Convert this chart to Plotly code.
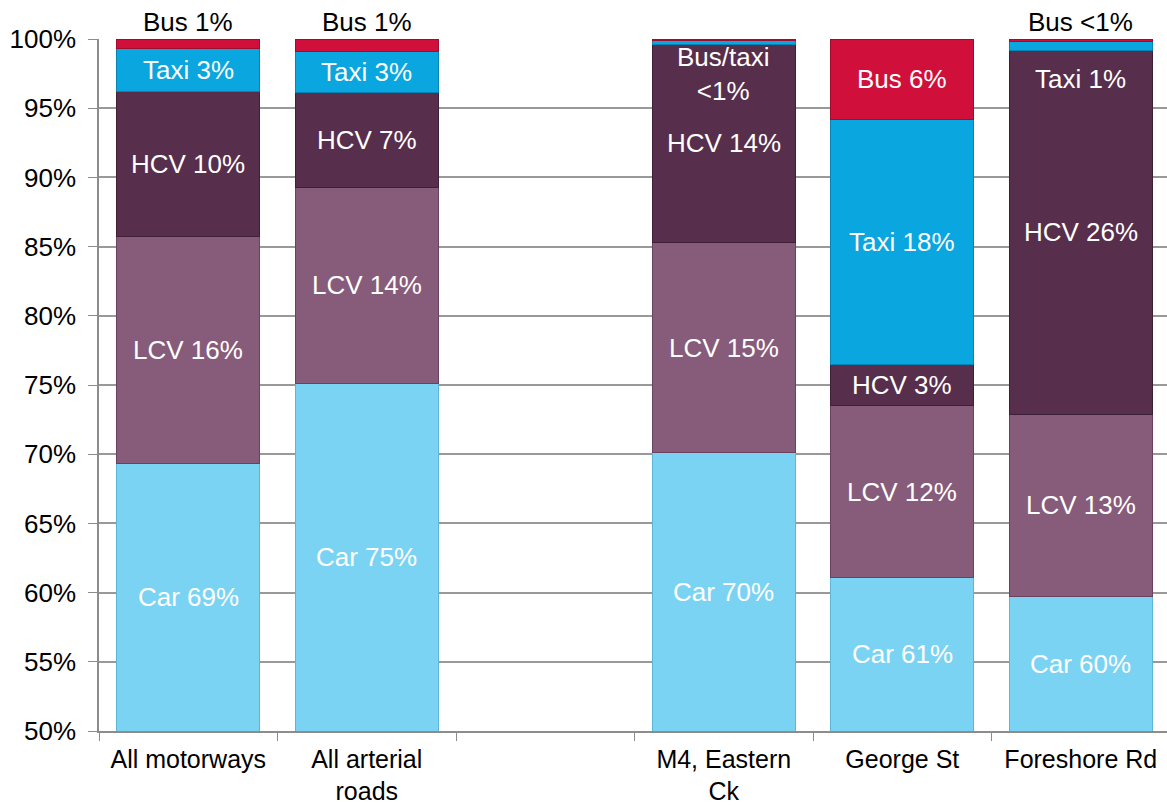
import plotly.graph_objects as go

# categories (blank slot keeps the gap between the two groups)
roads = ["All motorways", "All arterial<br>roads", " ", "M4, Eastern<br>Ck", "George St", "Foreshore Rd"]

# vehicle share, % of traffic
car = [69.3, 75.1, 0, 70.1, 61.1, 59.7]
lcv = [16.4, 14.2, 0, 15.2, 12.4, 13.2]
hcv = [10.5, 6.8, 0, 14.3, 3.0, 26.3]
taxi = [3.1, 3.0, 0, 0.3, 17.7, 0.65]
bus = [0.7, 0.9, 0, 0.1, 5.8, 0.15]

# labels drawn in the middle of each segment
car_text = ["Car 69%", "Car 75%", "", "Car 70%", "Car 61%", "Car 60%"]
lcv_text = ["LCV 16%", "LCV 14%", "", "LCV 15%", "LCV 12%", "LCV 13%"]
hcv_text = ["HCV 10%", "HCV 7%", "", "HCV 14%", "HCV 3%", "HCV 26%"]
taxi_text = ["Taxi 3%", "Taxi 3%", "", "", "Taxi 18%", ""]
bus_text = ["", "", "", "", "Bus 6%", ""]
# labels above the bars, and labels tucked under the top of the HCV block
above_text = ["Bus 1%", "Bus 1%", "", "", "", "Bus <1%"]
hcv_top_text = ["", "", "", "Bus/taxi<br><1%", "", "Taxi 1%"]

series = [
    ("Car", car, car_text, "#7BD3F4", "#5fb5d6"),
    ("LCV", lcv, lcv_text, "#875B7A", "#6a4260"),
    ("HCV", hcv, hcv_text, "#572E4B", "#3f1f36"),
    ("Taxi", taxi, taxi_text, "#09A6E0", "#0784b4"),
    ("Bus", bus, bus_text, "#D0103A", "#a00c2c"),
]

FONT = "Arial, Liberation Sans, sans-serif"
Y0, Y1 = 50, 100

fig = go.Figure()
annotations = []
base = [0.0] * len(roads)
for name, vals, texts, color, edge in series:
    fig.add_trace(go.Bar(
        x=roads, y=vals, name=name,
        marker=dict(color=color, line=dict(color=edge, width=1)),
        hoverinfo="x+y+name",
    ))
    for i, t in enumerate(texts):
        if t:
            lo = max(base[i], Y0)
            hi = min(base[i] + vals[i], Y1)
            annotations.append(dict(x=roads[i], y=(lo + hi) / 2, text=t, showarrow=False,
                                    font=dict(color="white", size=26, family=FONT)))
    base = [b + v for b, v in zip(base, vals)]

hcv_top = [c + l + h for c, l, h in zip(car, lcv, hcv)]
shifts = {3: 5, 5: -12}
for i, t in enumerate(hcv_top_text):
    if t:
        annotations.append(dict(x=roads[i], y=hcv_top[i], text=t, showarrow=False,
                                yanchor="top", yshift=shifts.get(i, 0),
                                font=dict(color="white", size=26, family=FONT)))
for i, t in enumerate(above_text):
    if t:
        annotations.append(dict(x=roads[i], y=Y1, text=t, showarrow=False,
                                yanchor="bottom", yshift=0,
                                font=dict(color="black", size=26, family=FONT)))

fig.update_layout(
    barmode="stack",
    bargap=0.2,
    width=1167, height=805,
    margin=dict(l=99, r=0, t=39, b=74),
    paper_bgcolor="white",
    plot_bgcolor="white",
    showlegend=False,
    font=dict(family=FONT, size=26, color="black"),
    annotations=annotations,
)
fig.update_xaxes(
    type="category", categoryorder="array", categoryarray=roads,
    range=[-0.5, 5.483], automargin=False,
    tickson="boundaries", ticks="outside", ticklen=8, tickcolor="#8c8c8c",
    showline=True, linecolor="#8c8c8c", linewidth=1.5,
    showgrid=False, ticklabelstandoff=5,
    tickfont=dict(size=25, color="black"),
)
fig.update_yaxes(
    range=[Y0, Y1], dtick=5, ticksuffix="%", automargin=False,
    ticks="outside", ticklen=9, tickcolor="#8c8c8c",
    showline=True, linecolor="#8c8c8c", linewidth=1.5,
    showgrid=True, gridcolor="#999999", gridwidth=1.5,
    zeroline=False, ticklabelstandoff=7,
    tickfont=dict(size=26, color="black"),
)

# drop the page's default body margin so the figure sits at the window corner
fig.write_html("out.html", config={"displayModeBar": False},
               post_script="document.body.style.margin='0';")
